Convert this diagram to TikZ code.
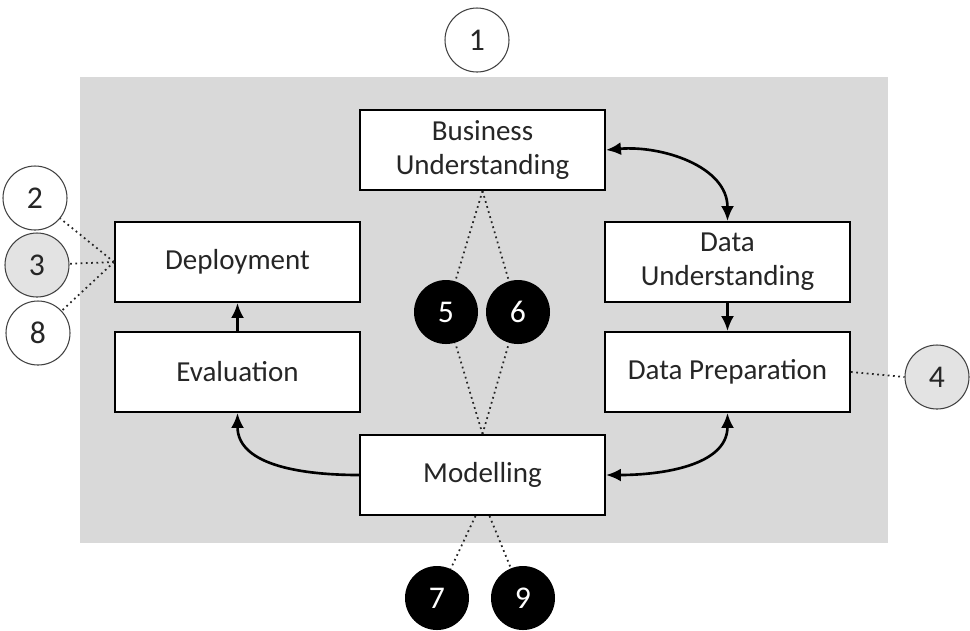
\documentclass[tikz,border=0pt]{standalone}
\usepackage{fontspec}
\setmainfont{Carlito}
\usepackage{tikz}
\usetikzlibrary{arrows.meta,positioning,calc}
\usepackage{xcolor}
\definecolor{panelgray}{HTML}{D9D9D9}
\definecolor{softgray}{HTML}{E3E3E3}
\definecolor{inkgray}{HTML}{262626}

\begin{document}
\begin{tikzpicture}[
    phasebox/.style={rectangle, draw=black, line width=1.1pt, fill=white, minimum width=4.9cm, minimum height=1.6cm, align=center, text=inkgray, font=\fontsize{16.5}{19.5}\selectfont},
    markw/.style={circle, draw=black!75, line width=0.6pt, fill=white, minimum size=1.28cm, inner sep=0pt, text=inkgray, font=\fontsize{18}{20}\selectfont},
    markg/.style={markw, fill=softgray},
    markb/.style={circle, fill=black, minimum size=1.28cm, inner sep=0pt, text=white, font=\fontsize{18}{20}\selectfont},
    flow/.style={line width=1.5pt, -{Latex[length=3mm,width=2.6mm]}},
    flowboth/.style={line width=1.5pt, {Latex[length=3mm,width=2.6mm]}-{Latex[length=3mm,width=2.6mm]}},
    link/.style={dotted, line width=1pt, black!85}
  ]
  \useasboundingbox (0,0) rectangle (19.4,-12.6);
  \fill[panelgray] (1.6,-1.54) rectangle (17.76,-10.86);

  % phases
  \node[phasebox] (bu) at (9.65,-3.0) {Business\\Understanding};
  \node[phasebox] (dep) at (4.75,-5.24) {Deployment};
  \node[phasebox] (eva) at (4.75,-7.44) {Evaluation};
  \node[phasebox] (du) at (14.55,-5.24) {Data\\Understanding};
  \node[phasebox] (dp) at (14.55,-7.44) {Data Preparation};
  \node[phasebox] (mod) at (9.65,-9.5) {Modelling};

  % markers
  \node[markw] (m1) at (9.54,-0.8) {1};
  \node[markw] (m2) at (0.7,-3.96) {2};
  \node[markg] (m3) at (0.74,-5.3) {3};
  \node[markw] (m8) at (0.76,-6.66) {8};
  \node[markg] (m4) at (18.74,-7.54) {4};
  \node[markb] (m5) at (8.92,-6.24) {5};
  \node[markb] (m6) at (10.36,-6.24) {6};
  \node[markb] (m7) at (8.74,-11.96) {7};
  \node[markb] (m9) at (10.46,-11.96) {9};

  % process arrows
  \draw[flowboth] (bu.east) to[out=5,in=90] (du.north);
  \draw[flow] (du.south) -- (dp.north);
  \draw[flowboth] (mod.east) to[out=0,in=-90] (dp.south);
  \draw[flow] (mod.west) to[out=180,in=-90] (eva.south);
  \draw[flow] (eva.north) -- (dep.south);

  % dotted links
  \draw[link] (dep.west) -- (m2);
  \draw[link] (dep.west) -- (m3);
  \draw[link] (dep.west) -- (m8);
  \draw[link] (dp.east) -- (m4.west);
  \draw[link] (bu.south) -- (m5);
  \draw[link] (bu.south) -- (m6);
  \draw[link] (mod.north) -- (m5);
  \draw[link] (mod.north) -- (m6);
  \draw[link] ([xshift=-4pt]mod.south) -- (m7);
  \draw[link] ([xshift=4pt]mod.south) -- (m9);
\end{tikzpicture}
\end{document}
